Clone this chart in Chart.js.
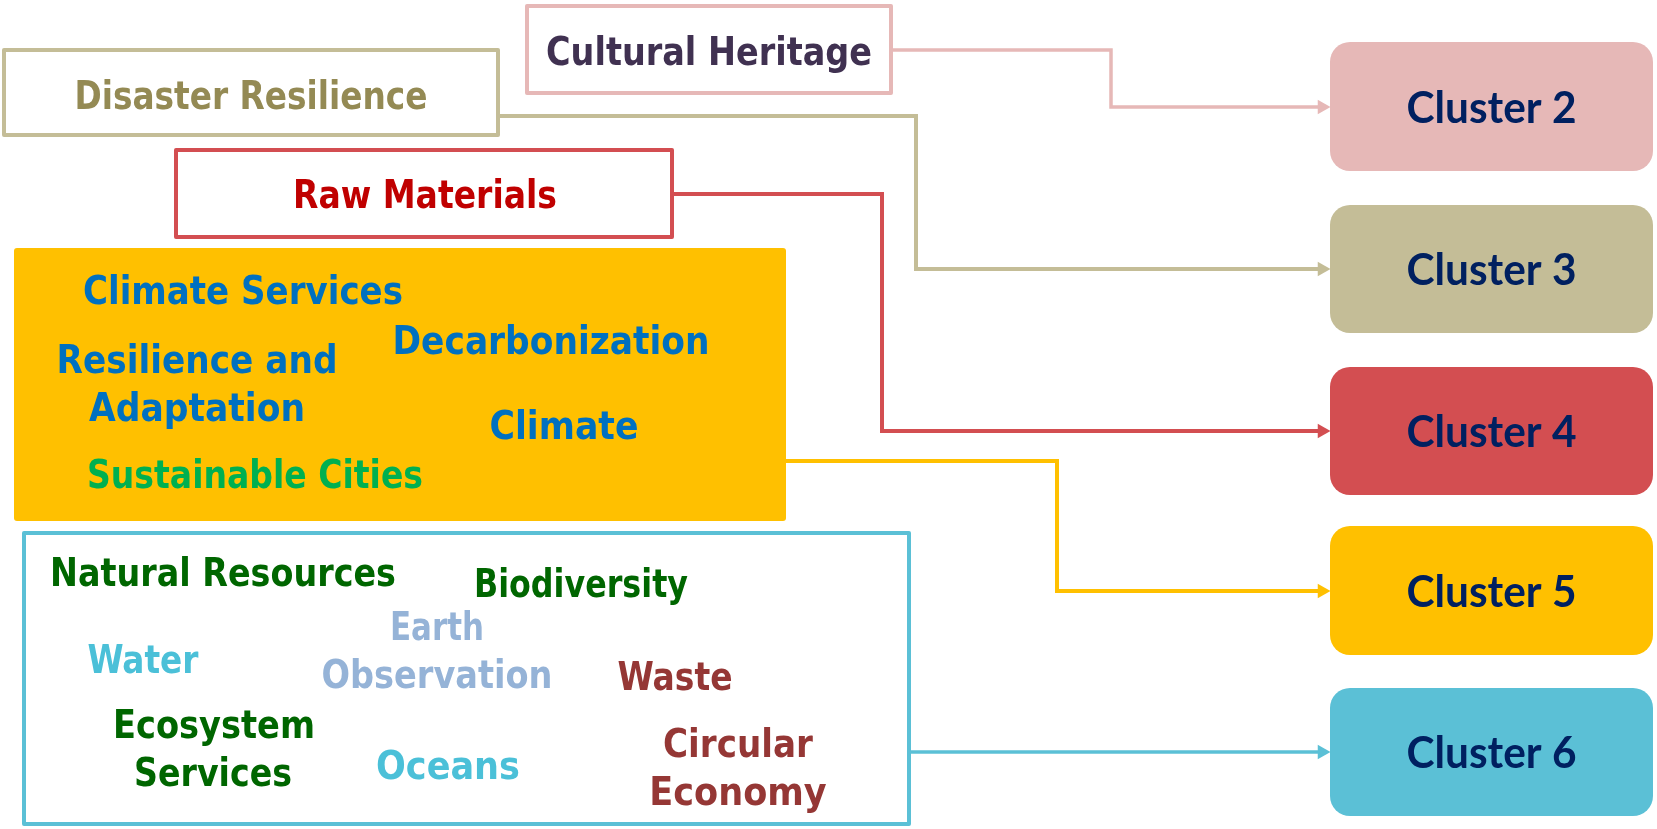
<!DOCTYPE html>
<html>
<head>
<meta charset="utf-8">
<script src="https://cdn.jsdelivr.net/npm/chart.js@4.4.1/dist/chart.umd.min.js"></script>
<style>
  html, body { margin: 0; padding: 0; background: #fff; }
  #wrap { width: 1657px; height: 829px; }
</style>
</head>
<body>
<div id="wrap"><canvas id="diagram"></canvas></div>
<script>
// clusters on the right side
const clusterNames = ['Cluster 2', 'Cluster 3', 'Cluster 4', 'Cluster 5', 'Cluster 6'];
const clusterColors = ['#E6B8B7', '#C4BD97', '#D34E51', '#FFC000', '#5BC0D6'];
const clusterTop = [42, 205, 367, 526, 688];
const clusterBottom = [171, 333, 495, 655, 816];
const clusterLeft = 1330;
const clusterRight = 1653;

// topic boxes on the left: [x0, y0, x1, y1]
const topicBoxes = [[525, 4, 893, 95], [2, 48, 500, 137], [174, 148, 674, 239], [14, 248, 786, 521], [22, 531, 911, 826]];
const topicBoxFilled = [false, false, false, true, false];

// connectors, one per cluster (last point = arrow)
const routeX = [[893, 1111, 1111, 1322], [500, 916, 916, 1322], [674, 882, 882, 1322], [785, 1057, 1057, 1322], [911, 1322]];
const routeY = [[50, 50, 107, 107], [116, 116, 269, 269], [194, 194, 431, 431], [461, 461, 591, 591], [752, 752]];
const routeWidth = [3.5, 4, 4, 4, 3.5];

// topic labels
const labelText = ['Cultural Heritage', 'Disaster Resilience', 'Raw Materials',
  'Climate Services', 'Decarbonization', 'Resilience and', 'Adaptation', 'Climate', 'Sustainable Cities',
  'Natural Resources', 'Biodiversity', 'Earth', 'Observation', 'Water', 'Waste',
  'Ecosystem', 'Services', 'Oceans', 'Circular', 'Economy'];
const labelX = [709, 251, 425, 243, 551, 197, 197, 564, 255, 223, 581, 437, 437, 143, 675, 214, 213, 448, 738, 738];
const labelY = [65, 109, 208, 304, 354, 373, 421, 439, 488, 586, 597, 640, 688, 673, 690, 738, 786, 779, 757, 805];
const labelW = [326, 353, 264, 320, 317, 281, 216, 149, 336, 346, 214, 94, 231, 111, 115, 202, 158, 150, 150, 179];
const labelColor = ['#403151', '#948A54', '#C00000',
  '#0070C0', '#0070C0', '#0070C0', '#0070C0', '#0070C0', '#00B050',
  '#006600', '#006600', '#95B3D7', '#95B3D7', '#4BC0D8', '#953735',
  '#006600', '#006600', '#4BC0D8', '#953735', '#953735'];

const topicFont = 'bold 39px "DejaVu Sans Condensed", "DejaVu Sans", sans-serif';
const clusterFont = 'bold 43px Lato, "Open Sans", sans-serif';

function roundBox(ctx, x, y, w, h, r) {
  ctx.beginPath();
  if (ctx.roundRect) ctx.roundRect(x, y, w, h, r);
  else ctx.rect(x, y, w, h);
}

// boxes behind the connectors, labels on top
const boxPlugin = {
  id: 'boxes',
  beforeDatasetsDraw(chart) {
    const { ctx, scales: { x, y } } = chart;
    ctx.save();
    topicBoxes.forEach((b, i) => {
      const x0 = x.getPixelForValue(b[0]), x1 = x.getPixelForValue(b[2]);
      const y0 = y.getPixelForValue(b[1]), y1 = y.getPixelForValue(b[3]);
      if (topicBoxFilled[i]) {
        ctx.fillStyle = clusterColors[i];
        roundBox(ctx, x0, y0, x1 - x0, y1 - y0, 3);
        ctx.fill();
      } else {
        ctx.strokeStyle = clusterColors[i];
        ctx.lineWidth = 4;
        ctx.lineJoin = 'round';
        ctx.strokeRect(x0 + 2, y0 + 2, x1 - x0 - 4, y1 - y0 - 4);
      }
    });
    clusterNames.forEach((name, i) => {
      const x0 = x.getPixelForValue(clusterLeft), x1 = x.getPixelForValue(clusterRight);
      const y0 = y.getPixelForValue(clusterTop[i]), y1 = y.getPixelForValue(clusterBottom[i]);
      ctx.fillStyle = clusterColors[i];
      roundBox(ctx, x0, y0, x1 - x0, y1 - y0, 20);
      ctx.fill();
    });
    ctx.restore();
  },
  afterDatasetsDraw(chart) {
    const { ctx, scales: { x, y } } = chart;
    ctx.save();
    ctx.textAlign = 'center';
    ctx.textBaseline = 'alphabetic';
    ctx.font = topicFont;
    labelText.forEach((t, i) => {
      ctx.fillStyle = labelColor[i];
      ctx.fillText(t, x.getPixelForValue(labelX[i]), y.getPixelForValue(labelY[i]), labelW[i]);
    });
    ctx.font = clusterFont;
    ctx.fillStyle = '#002060';
    clusterNames.forEach((name, i) => {
      const cx = x.getPixelForValue((clusterLeft + clusterRight) / 2);
      const cy = y.getPixelForValue((clusterTop[i] + clusterBottom[i]) / 2 + 16);
      ctx.fillText(name, cx, cy, 170);
    });
    ctx.restore();
  }
};

const datasets = routeX.map((xs, i) => ({
  data: xs.map((v, k) => ({ x: v, y: routeY[i][k] })),
  showLine: true,
  borderColor: clusterColors[i],
  backgroundColor: clusterColors[i],
  borderWidth: routeWidth[i],
  borderJoinStyle: 'miter',
  tension: 0,
  pointStyle: 'triangle',
  rotation: 90,
  pointBorderWidth: 0,
  pointRadius: (c) => (c.dataIndex === xs.length - 1 ? 8.5 : 0),
  pointHoverRadius: 0,
  clip: false
}));

const ctx = document.getElementById('diagram').getContext('2d');
new Chart(ctx, {
  type: 'scatter',
  data: { datasets: datasets },
  plugins: [boxPlugin],
  options: {
    responsive: true,
    maintainAspectRatio: false,
    animation: false,
    layout: { padding: 0, autoPadding: false },
    plugins: { legend: { display: false }, tooltip: { enabled: false } },
    events: [],
    scales: {
      x: { type: 'linear', min: 0, max: 1657, display: false },
      y: { type: 'linear', min: 0, max: 829, reverse: true, display: false }
    }
  }
});
</script>
</body>
</html>
